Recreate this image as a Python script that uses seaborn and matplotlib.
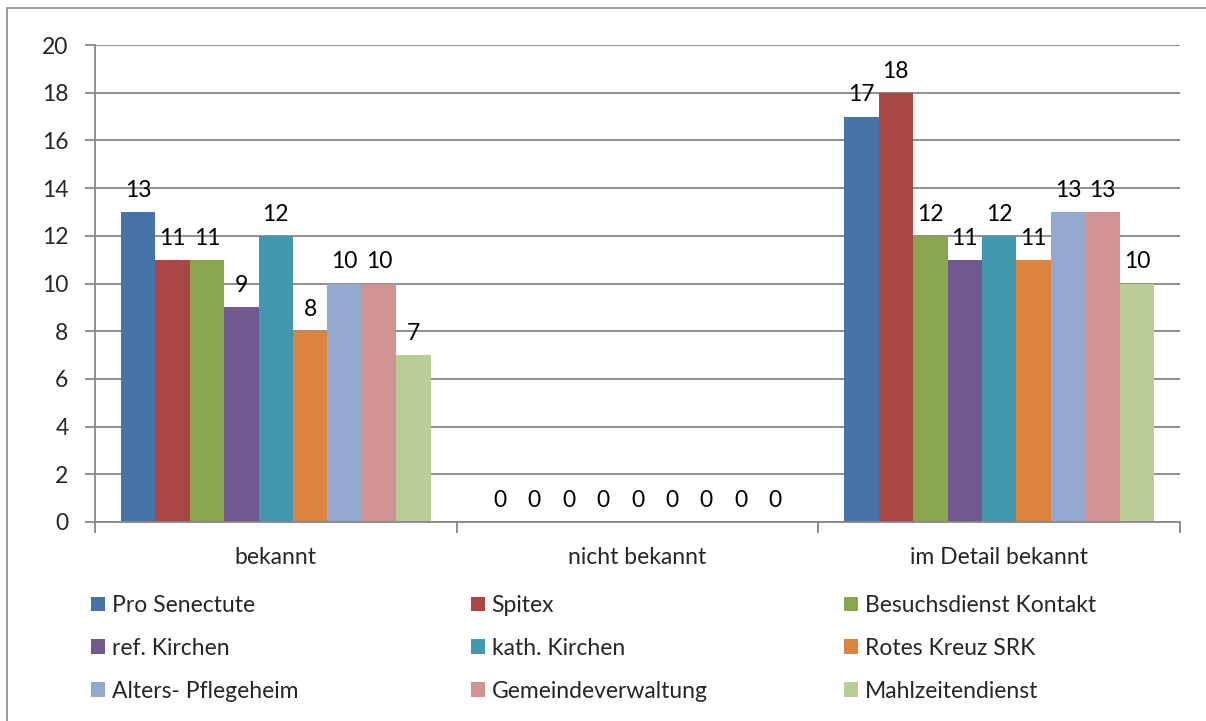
import matplotlib
matplotlib.use("Agg")
import matplotlib.pyplot as plt
import seaborn as sns
import pandas as pd
from matplotlib.patches import Rectangle, Patch

categories = ["bekannt", "nicht bekannt", "im Detail bekannt"]
series = ["Pro Senectute", "Spitex", "Besuchsdienst Kontakt", "ref. Kirchen",
          "kath. Kirchen", "Rotes Kreuz SRK", "Alters- Pflegeheim",
          "Gemeindeverwaltung", "Mahlzeitendienst"]
pro_senectute = [13, 0, 17]
spitex = [11, 0, 18]
besuchsdienst = [11, 0, 12]
ref_kirchen = [9, 0, 11]
kath_kirchen = [12, 0, 12]
rotes_kreuz = [8, 0, 11]
alters_pflegeheim = [10, 0, 13]
gemeindeverwaltung = [10, 0, 13]
mahlzeitendienst = [7, 0, 10]
colors = ["#4572A7", "#AA4643", "#89A54E", "#71588F", "#4198AF",
          "#DB843D", "#93A9CF", "#D19392", "#B9CD96"]

values = [pro_senectute, spitex, besuchsdienst, ref_kirchen, kath_kirchen,
          rotes_kreuz, alters_pflegeheim, gemeindeverwaltung, mahlzeitendienst]
rows = []
for s, vals in zip(series, values):
    for c, v in zip(categories, vals):
        rows.append({"Kategorie": c, "Serie": s, "Wert": v})
df = pd.DataFrame(rows)

sns.set_theme(style="white")
plt.rcParams["font.family"] = ["Lato", "DejaVu Sans"]

FS = 16.5
fig = plt.figure(figsize=(12.06, 7.21), dpi=100)
ax = fig.add_axes([95/1206, 1-522/721, (1180-95)/1206, (522-45)/721])

sns.barplot(data=df, x="Kategorie", y="Wert", hue="Serie", order=categories,
            hue_order=series, palette=colors, width=0.857, ax=ax,
            saturation=1, legend=False, edgecolor="none", linewidth=0)

for cont in ax.containers:
    ax.bar_label(cont, labels=[f"{int(v)}" for v in cont.datavalues],
                 padding=8, fontsize=FS, color="black")

grid_c = "#878787"
ax.set_ylim(0, 20)
ax.set_yticks(range(0, 21, 2))
ax.set_xlim(-0.5, 2.5)
ax.yaxis.grid(True, color=grid_c, linewidth=1.3)
ax.set_axisbelow(True)
for sp in ["top", "right"]:
    ax.spines[sp].set_visible(False)
for sp in ["left", "bottom"]:
    ax.spines[sp].set_color(grid_c)
    ax.spines[sp].set_linewidth(1.3)
ax.set_xlabel("")
ax.set_ylabel("")
ax.tick_params(axis="y", which="major", direction="out", length=7, width=1.3,
               color=grid_c, labelsize=FS, pad=12, left=True)
ax.set_xticks([0, 1, 2])
ax.set_xticklabels(categories)
ax.tick_params(axis="x", which="major", length=0, labelsize=FS, pad=18)
ax.set_xticks([-0.5, 0.5, 1.5, 2.5], minor=True)
ax.tick_params(axis="x", which="minor", direction="out", length=8, width=1.3,
               color=grid_c, bottom=True)

handles = [Patch(facecolor=c, edgecolor="none") for c in colors]
col_x = [91, 471, 844]
for col in range(3):
    idx = [col, col + 3, col + 6]
    fig.legend([handles[i] for i in idx], [series[i] for i in idx],
               ncol=1, loc="upper left",
               bbox_to_anchor=(col_x[col]/1206, 1-595/721),
               frameon=False, fontsize=FS,
               handlelength=0.6, handleheight=0.6, handletextpad=0.3,
               labelspacing=0.95, borderaxespad=0, borderpad=0)

fig.patches.append(Rectangle((7/1206, -0.01), 1.02, 1-8/721+0.01,
                             transform=fig.transFigure, fill=False,
                             edgecolor="#8c8c8c", linewidth=1.2))

fig.savefig("out.png", dpi=100)
